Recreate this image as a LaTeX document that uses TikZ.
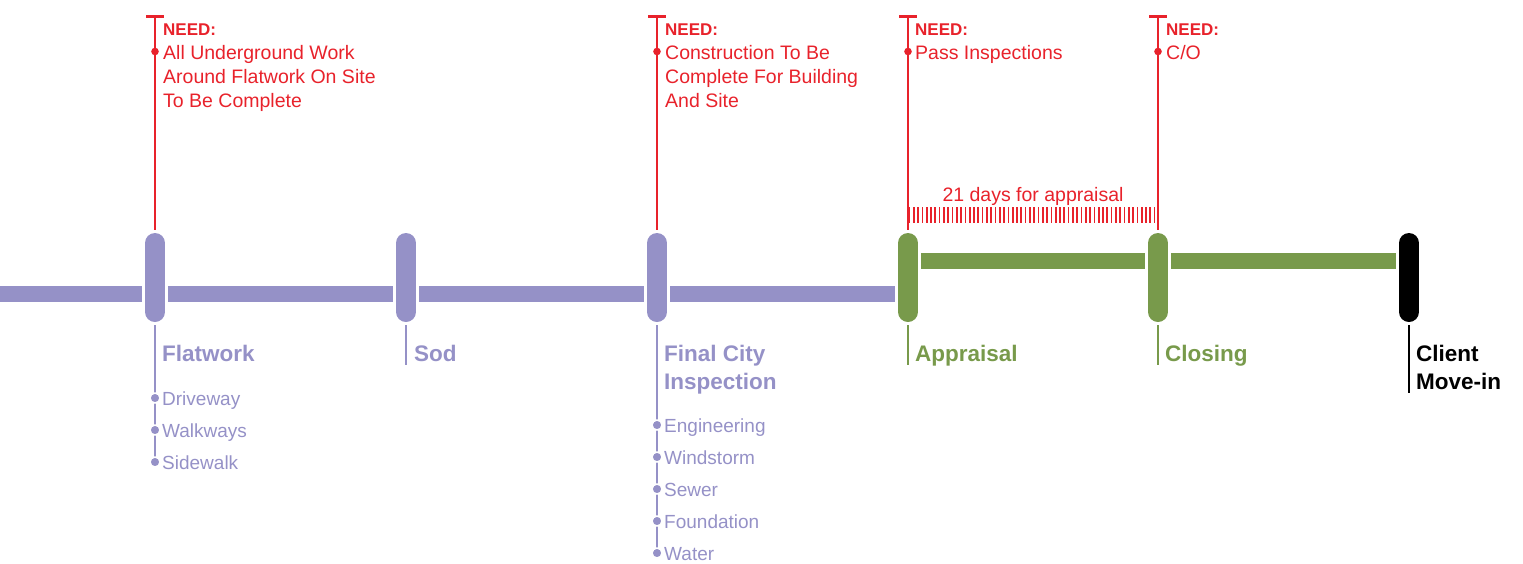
\documentclass[tikz,border=0pt]{standalone}
\usepackage{fontspec}
\setmainfont{Liberation Sans}
\usetikzlibrary{calc}
\definecolor{lav}{HTML}{9591C7}
\definecolor{grn}{HTML}{789A4B}
\definecolor{rd}{HTML}{E8222B}
\begin{document}
\begin{tikzpicture}[x=1pt,y=-1pt,
  pill/.style={rectangle, minimum width=20pt, minimum height=89pt, inner sep=0pt, outer sep=3pt},
  pillbody/.style={draw=#1, line width=20pt, line cap=round},
  bar/.style={draw=#1, line width=16pt},
  needline/.style={draw=rd, line width=2.4pt},
  tbar/.style={draw=rd, line width=3pt},
  subline/.style={draw=#1, line width=2.6pt},
  dotp/.style={circle, fill=#1, draw=white, line width=1.5pt, minimum size=10pt, inner sep=0pt},
  needhead/.style={text=rd, font=\fontsize{17}{20}\selectfont\bfseries, inner sep=0pt, anchor=base west},
  needtxt/.style={text=rd, font=\fontsize{19.5}{24}\selectfont, inner sep=0pt, anchor=base west},
  title/.style={text=#1, font=\fontsize{22.5}{28}\selectfont\bfseries, inner sep=0pt, anchor=base west},
  item/.style={text=lav, font=\fontsize{19}{24}\selectfont, inner sep=0pt, anchor=base west}
]
\useasboundingbox (0,0) rectangle (1523,563);

% pills
\node[pill] (p1) at (155,277.5) {};
\node[pill] (p2) at (406,277.5) {};
\node[pill] (p3) at (657,277.5) {};
\node[pill] (p4) at (908,277.5) {};
\node[pill] (p5) at (1158,277.5) {};
\node[pill] (p6) at (1409,277.5) {};
\foreach \n/\c in {1/lav,2/lav,3/lav,4/grn,5/grn,6/black}{
  \draw[pillbody=\c] ($(p\n.north)+(0,13)$) -- ($(p\n.south)+(0,-13)$);
}

% bars
\coordinate (L) at (0,294);
\draw[bar=lav] (L) -- ($(p1.west)+(0,16.5)$);
\draw[bar=lav] ($(p1.east)+(0,16.5)$) -- ($(p2.west)+(0,16.5)$);
\draw[bar=lav] ($(p2.east)+(0,16.5)$) -- ($(p3.west)+(0,16.5)$);
\draw[bar=lav] ($(p3.east)+(0,16.5)$) -- ($(p4.west)+(0,16.5)$);
\draw[bar=grn] ($(p4.east)+(0,-16.5)$) -- ($(p5.west)+(0,-16.5)$);
\draw[bar=grn] ($(p5.east)+(0,-16.5)$) -- ($(p6.west)+(0,-16.5)$);

% need lines
\foreach \n/\x in {1/155,3/657,4/908,5/1158}{
  \coordinate (t\n) at (\x,16);
  \draw[needline] (t\n) -- (p\n.north);
  \draw[tbar] ($(t\n)+(-9,0)$) -- ($(t\n)+(9,0)$);
  \fill[rd] (\x,51.5) circle (3.8pt);
}

% need texts
\node[needhead] (h1) at (163,35) {NEED:};
\node[needtxt] (a1) at (163,59.3) {All Underground Work};
\node[needtxt] (a2) at (163,83.3) {Around Flatwork On Site};
\node[needtxt] (a3) at (163,107.3) {To Be Complete};

\node[needhead] (h3) at (665,35) {NEED:};
\node[needtxt] (b1) at (665,59.3) {Construction To Be};
\node[needtxt] (b2) at (665,83.3) {Complete For Building};
\node[needtxt] (b3) at (665,107.3) {And Site};

\node[needhead] (h4) at (915,35) {NEED:};
\node[needtxt] (c1) at (915,59.3) {Pass Inspections};

\node[needhead] (h5) at (1166,35) {NEED:};
\node[needtxt] (d1) at (1166,59.3) {C/O};

% appraisal hatch
\foreach \i in {0,...,57}{
  \draw[rd, line width=1.7pt] (909.5+\i*4.3,207) -- (909.5+\i*4.3,223);
}
\node[needtxt, anchor=base] (days) at (1033,201) {21 days for appraisal};

% Flatwork
\coordinate (f3) at (155,462);
\draw[subline=lav] (p1.south) -- (f3);
\node[title=lav] (tf) at (162,361) {Flatwork};
\foreach \y/\t in {398/Driveway,430/Walkways,462/Sidewalk}{
  \node[dotp=lav] at (155,\y) {};
  \node[item] at (162,\y+7.5) {\t};
}

% Sod
\coordinate (s1) at (406,365);
\draw[subline=lav] (p2.south) -- (s1);
\node[title=lav] (ts) at (414,361) {Sod};

% Final City Inspection
\coordinate (c5) at (657,553);
\draw[subline=lav] (p3.south) -- (c5);
\node[title=lav] (tc1) at (664,361) {Final City};
\node[title=lav] (tc2) at (664,389) {Inspection};
\foreach \y/\t in {425/Engineering,457/Windstorm,489/Sewer,521/Foundation,553/Water}{
  \node[dotp=lav] at (657,\y) {};
  \node[item] at (664,\y+7.5) {\t};
}

% Appraisal
\coordinate (ap) at (908,365);
\draw[subline=grn] (p4.south) -- (ap);
\node[title=grn] (ta) at (915,361) {Appraisal};

% Closing
\coordinate (cl) at (1158,365);
\draw[subline=grn] (p5.south) -- (cl);
\node[title=grn] (tcl) at (1165,361) {Closing};

% Client Move-in
\coordinate (cm) at (1409,393);
\draw[subline=black] (p6.south) -- (cm);
\node[title=black] (tm1) at (1416,361) {Client};
\node[title=black] (tm2) at (1416,389) {Move-in};
\end{tikzpicture}
\end{document}
